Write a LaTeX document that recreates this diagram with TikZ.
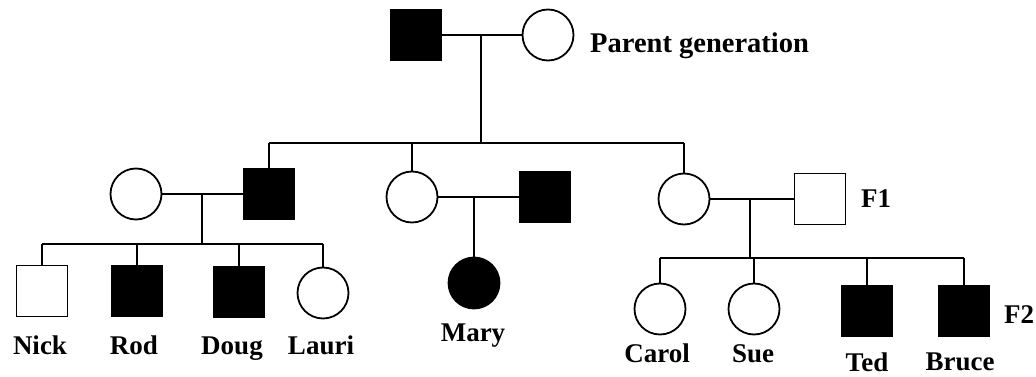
\documentclass[tikz,border=0pt]{standalone}
\usepackage{fontspec}
\setmainfont{Liberation Serif}
\begin{document}
\begin{tikzpicture}[x=1pt,y=-1pt,
  male/.style={rectangle,draw,line width=1.8pt,minimum size=51pt,inner sep=0pt},
  female/.style={circle,draw,line width=1.8pt,minimum size=51pt,inner sep=0pt},
  aff/.style={fill=black},
  lbl/.style={font=\fontsize{27}{30}\selectfont\bfseries,inner sep=0pt,anchor=base},
  ln/.style={line width=2.2pt}]
\useasboundingbox (0,0) rectangle (1036,377);
% parents
\node[male,aff] (P1) at (416,35) {};
\node[female] (P2) at (548,35) {};
\node[lbl,anchor=base west,font=\fontsize{28.5}{32}\selectfont\bfseries] (PG) at (590,53) {Parent generation};
\coordinate (m0) at (481,35);
\coordinate (s0) at (481,143);
% F1
\node[male,aff] (A) at (269,194) {};
\node[female] (B) at (412,197) {};
\node[female] (C) at (684,199) {};
\node[female] (S1) at (136,194) {};
\node[male,aff] (D) at (545,197) {};
\node[male] (E) at (820,199) {};
\node[lbl] (F1) at (876,207) {F1};
% F2 left family
\node[male] (Nick) at (42,291) {};
\node[male,aff] (Rod) at (137,291) {};
\node[male,aff] (Doug) at (239,292) {};
\node[female] (Lauri) at (323,293) {};
\node[lbl] (lNick) at (40,354) {Nick};
\node[lbl] (lRod) at (134,354) {Rod};
\node[lbl] (lDoug) at (232,354) {Doug};
\node[lbl] (lLauri) at (321,354) {Lauri};
\coordinate (m1) at (202,194);
\coordinate (s1) at (202,244);
% Mary
\node[female,aff] (Mary) at (474,283) {};
\node[lbl] (lMary) at (473,341) {Mary};
\coordinate (m2) at (474,197);
% right family
\node[female] (Carol) at (660,309) {};
\node[female] (Sue) at (754,309) {};
\node[male,aff] (Ted) at (867,311) {};
\node[male,aff] (Bruce) at (964,311) {};
\node[lbl] (lCarol) at (657,362) {Carol};
\node[lbl] (lSue) at (753,362) {Sue};
\node[lbl] (lTed) at (867,371) {Ted};
\node[lbl] (lBruce) at (960,370) {Bruce};
\node[lbl] (F2) at (1019,323) {F2};
\coordinate (m3) at (750,199);
\coordinate (s3) at (750,258);
% connectors
\draw[ln] (P1) -- (P2);
\draw[ln] (m0) -- (s0);
\draw[ln] (A |- s0) -- (C |- s0);
\draw[ln] (A |- s0) -- (A);
\draw[ln] (B |- s0) -- (B);
\draw[ln] (C |- s0) -- (C);
\draw[ln] (S1) -- (A);
\draw[ln] (m1) -- (s1);
\draw[ln] (Nick |- s1) -- (Lauri |- s1);
\draw[ln] (Nick |- s1) -- (Nick);
\draw[ln] (Rod |- s1) -- (Rod);
\draw[ln] (Doug |- s1) -- (Doug);
\draw[ln] (Lauri |- s1) -- (Lauri);
\draw[ln] (B) -- (D);
\draw[ln] (m2) -- (Mary);
\draw[ln] (C) -- (E);
\draw[ln] (m3) -- (s3);
\draw[ln] (Carol |- s3) -- (Bruce |- s3);
\draw[ln] (Carol |- s3) -- (Carol);
\draw[ln] (Sue |- s3) -- (Sue);
\draw[ln] (Ted |- s3) -- (Ted);
\draw[ln] (Bruce |- s3) -- (Bruce);
\end{tikzpicture}
\end{document}
